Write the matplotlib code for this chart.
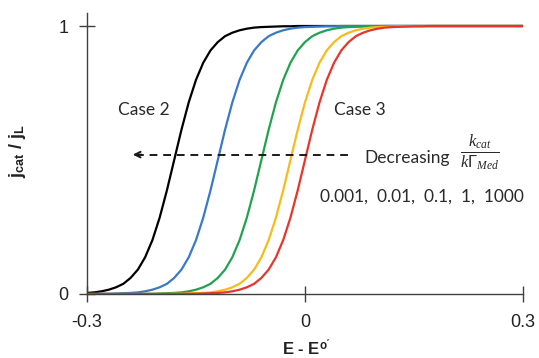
import matplotlib
matplotlib.use("Agg")
import matplotlib.pyplot as plt

# Potential grid (E - E0') and read-off normalised currents j_cat/j_L
potential = [-0.30, -0.29, -0.28, -0.27, -0.26, -0.25, -0.24, -0.23, -0.22, -0.21,
             -0.20, -0.19, -0.18, -0.17, -0.16, -0.15, -0.14, -0.13, -0.12, -0.11,
             -0.10, -0.09, -0.08, -0.07, -0.06, -0.05, -0.04, -0.03, -0.02, -0.01,
             0.00, 0.01, 0.02, 0.03, 0.04, 0.05, 0.06, 0.07, 0.08, 0.09,
             0.10, 0.11, 0.12, 0.13, 0.14, 0.15, 0.16, 0.17, 0.18, 0.19,
             0.20, 0.21, 0.22, 0.23, 0.24, 0.25, 0.26, 0.27, 0.28, 0.29, 0.30]

ratio_labels = ["0.001", "0.01", "0.1", "1", "1000"]

j_0001 = [0.004, 0.006, 0.010, 0.016, 0.025, 0.038, 0.060, 0.091, 0.137, 0.201,
          0.285, 0.387, 0.500, 0.613, 0.715, 0.799, 0.863, 0.909, 0.940, 0.962,
          0.975, 0.984, 0.990, 0.994, 0.996, 0.997, 0.998, 0.999, 0.999,
          1.0, 1.0, 1.0, 1.0, 1.0, 1.0, 1.0, 1.0, 1.0, 1.0, 1.0,
          1.0, 1.0, 1.0, 1.0, 1.0, 1.0, 1.0, 1.0, 1.0, 1.0, 1.0,
          1.0, 1.0, 1.0, 1.0, 1.0, 1.0, 1.0, 1.0, 1.0, 1.0]

j_001 = [0.0, 0.0, 0.001, 0.001, 0.002, 0.003,
         0.004, 0.006, 0.010, 0.016, 0.025, 0.038, 0.060, 0.091, 0.137, 0.201,
         0.285, 0.387, 0.500, 0.613, 0.715, 0.799, 0.863, 0.909, 0.940, 0.962,
         0.975, 0.984, 0.990, 0.994, 0.996, 0.997, 0.998, 0.999, 0.999,
         1.0, 1.0, 1.0, 1.0, 1.0, 1.0, 1.0, 1.0, 1.0, 1.0, 1.0, 1.0, 1.0,
         1.0, 1.0, 1.0, 1.0, 1.0, 1.0, 1.0, 1.0, 1.0, 1.0, 1.0, 1.0, 1.0]

j_01 = [0.0, 0.0, 0.0, 0.0, 0.0, 0.0,
        0.0, 0.0, 0.001, 0.001, 0.002, 0.003,
        0.004, 0.006, 0.010, 0.016, 0.025, 0.038, 0.060, 0.091, 0.137, 0.201,
        0.285, 0.387, 0.500, 0.613, 0.715, 0.799, 0.863, 0.909, 0.940, 0.962,
        0.975, 0.984, 0.990, 0.994, 0.996, 0.997, 0.998, 0.999, 0.999,
        1.0, 1.0, 1.0, 1.0, 1.0, 1.0, 1.0, 1.0, 1.0, 1.0,
        1.0, 1.0, 1.0, 1.0, 1.0, 1.0, 1.0, 1.0, 1.0, 1.0]

j_1 = [0.0, 0.0, 0.0, 0.0, 0.0, 0.0, 0.0, 0.0, 0.0, 0.0,
       0.0, 0.0, 0.001, 0.001, 0.002, 0.003,
       0.004, 0.006, 0.010, 0.016, 0.025, 0.038, 0.060, 0.091, 0.137, 0.201,
       0.285, 0.387, 0.500, 0.613, 0.715, 0.799, 0.863, 0.909, 0.940, 0.962,
       0.975, 0.984, 0.990, 0.994, 0.996, 0.997, 0.998, 0.999, 0.999,
       1.0, 1.0, 1.0, 1.0, 1.0, 1.0, 1.0, 1.0,
       1.0, 1.0, 1.0, 1.0, 1.0, 1.0, 1.0, 1.0]

j_1000 = [0.0, 0.0, 0.0, 0.0, 0.0, 0.0, 0.0, 0.0, 0.0, 0.0, 0.0, 0.0,
          0.0, 0.0, 0.001, 0.001, 0.002, 0.003,
          0.004, 0.006, 0.010, 0.016, 0.025, 0.038, 0.060, 0.091, 0.137, 0.201,
          0.285, 0.387, 0.500, 0.613, 0.715, 0.799, 0.863, 0.909, 0.940, 0.962,
          0.975, 0.984, 0.990, 0.994, 0.996, 0.997, 0.998, 0.999, 0.999,
          1.0, 1.0, 1.0, 1.0, 1.0, 1.0, 1.0,
          1.0, 1.0, 1.0, 1.0, 1.0, 1.0, 1.0]

series = [j_0001, j_001, j_01, j_1, j_1000]
colors = ["#000000", "#3a78c8", "#22a24e", "#f6bb1c", "#e8352c"]

x_ticks = [-0.3, 0, 0.3]
x_ticklabels = ["-0.3", "0", "0.3"]
y_ticks = [0, 1]
y_ticklabels = ["0", "1"]

plt.rcParams["mathtext.fontset"] = "custom"
plt.rcParams["mathtext.rm"] = "Liberation Sans"
plt.rcParams["mathtext.bf"] = "Liberation Sans:bold"
plt.rcParams["mathtext.it"] = "Liberation Serif:italic"
plt.rcParams["mathtext.default"] = "it"

fig = plt.figure(figsize=(5.39, 3.58), dpi=100)
ax = fig.add_axes([0.1614, 0.1788, 0.8089, 0.786])

for ys, c in zip(series, colors):
    n = min(len(potential), len(ys))
    ax.plot(potential[:n], ys[:n], color=c, lw=1.6, solid_capstyle="round")

ax.set_xlim(-0.3, 0.3)
ax.set_ylim(0, 1.05)
for s in ["top", "right"]:
    ax.spines[s].set_visible(False)
for s in ["left", "bottom"]:
    ax.spines[s].set_color("#404040")
    ax.spines[s].set_linewidth(1.0)

ax.set_xticks(x_ticks)
ax.set_xticklabels(x_ticklabels, fontfamily="Liberation Sans", fontsize=13, color="#222222")
ax.set_yticks(y_ticks)
ax.set_yticklabels(y_ticklabels, fontfamily="Liberation Sans", fontsize=13, color="#222222")
ax.tick_params(axis="both", direction="inout", length=11, width=1.0, color="#404040")
ax.tick_params(axis="x", pad=9)
ax.tick_params(axis="y", pad=8)

# axis labels
fig.text(306 / 539, 1 - 355 / 358, r"E - E$^\mathbf{o'}$", ha="center", va="baseline",
         fontfamily="Liberation Sans", fontsize=12, fontweight="bold", color="#222222")
fig.text(18 / 539, 1 - 151 / 358, r"j$_\mathbf{cat}$ / j$_\mathbf{L}$", ha="center", va="center",
         rotation=90, fontfamily="Liberation Sans", fontsize=13, fontweight="bold", color="#222222")

# annotations
tfont = dict(fontfamily="Lato", fontsize=12.5, color="#2a2a2a")
ax.text(-0.222, 0.687, "Case 2", ha="center", va="center", **tfont)
ax.text(0.075, 0.687, "Case 3", ha="center", va="center", **tfont)
ax.text(0.0816, 0.507, "Decreasing", ha="left", va="center", **tfont)
ax.text(0.241, 0.526, r"$\frac{k_{cat}}{k\mathit{\Gamma}_{Med}}$", ha="center", va="center",
        fontsize=17, color="#2a2a2a")
ax.text(0.0206, 0.363, ",  ".join(ratio_labels), ha="left", va="center", **tfont)

# dashed arrow
ax.plot([-0.233, 0.064], [0.52, 0.52], color="#1a1a1a", lw=1.4, ls=(0, (4, 3)))
ax.annotate("", xy=(-0.237, 0.52), xytext=(-0.225, 0.52),
            arrowprops=dict(arrowstyle="->", lw=1.4, color="#1a1a1a", mutation_scale=10,
                            shrinkA=0, shrinkB=0))

fig.savefig("out.png", dpi=100)
